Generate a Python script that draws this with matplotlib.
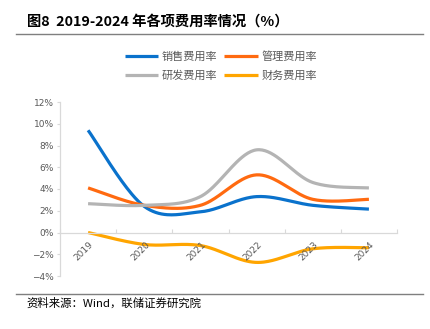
import numpy as np
import matplotlib
matplotlib.use("Agg")
import matplotlib.pyplot as plt
from matplotlib.lines import Line2D

plt.rcParams['font.family'] = ['Noto Sans CJK SC', 'DejaVu Sans']
plt.rcParams['axes.unicode_minus'] = True

# 数据（%）
years = ['2019', '2020', '2021', '2022', '2023', '2024']
sales = [9.4, 2.4, 1.9, 3.3, 2.5, 2.15]
admin = [4.1, 2.5, 2.5, 5.3, 3.05, 3.05]
rnd = [2.65, 2.5, 3.3, 7.6, 4.6, 4.1]
finance = [0.0, -1.1, -1.2, -2.75, -1.5, -1.4]

names = ['销售费用率', '管理费用率', '研发费用率', '财务费用率']
colors = ['#0A72CC', '#FF6A10', '#B4B4B4', '#FFA500']
yticks = [-4, -2, 0, 2, 4, 6, 8, 10, 12]


def smooth(xs, ys, n=40):
    # 平滑曲线：三次贝塞尔，控制点取相邻点差值的 1/6
    pts = np.column_stack([xs, ys]).astype(float)
    out = [pts[0]]
    m = len(pts)
    for i in range(m - 1):
        p0 = pts[i - 1] if i > 0 else pts[i]
        p1, p2 = pts[i], pts[i + 1]
        p3 = pts[i + 2] if i + 2 < m else pts[i + 1]
        c1 = p1 + (p2 - p0) / 6
        c2 = p2 - (p3 - p1) / 6
        t = np.linspace(0, 1, n)[1:, None]
        seg = ((1 - t) ** 3) * p1 + 3 * ((1 - t) ** 2) * t * c1 \
            + 3 * (1 - t) * t ** 2 * c2 + t ** 3 * p2
        out.extend(seg)
    out = np.array(out)
    return out[:, 0], out[:, 1]


fig = plt.figure(figsize=(4.31, 3.29), dpi=100)
ax = fig.add_axes([60 / 431, 1 - 276 / 329, 337 / 431, 174 / 329])

x = np.arange(len(years))
lines = []
for vals, c in zip([sales, admin, rnd, finance], colors):
    sx, sy = smooth(x, vals)
    lines += ax.plot(sx, sy, color=c, lw=2.3, solid_capstyle='butt')

ax.set_xlim(-0.5, len(years) - 0.5)
ax.set_ylim(-4, 12)
ax.set_yticks(yticks)
ax.set_yticklabels([f'{v}%'.replace('-', '\u2212') for v in yticks],
                   fontsize=6.5, color='#595959', family='DejaVu Sans')

# 横轴放在 0 处，刻度朝上
ax.spines['bottom'].set_position(('data', 0))
ax.spines['top'].set_visible(False)
ax.spines['right'].set_visible(False)
for s in ['left', 'bottom']:
    ax.spines[s].set_color('#D9D9D9')
    ax.spines[s].set_linewidth(0.9)
ax.set_xticks(np.arange(-0.5, len(years), 1))
ax.set_xticklabels([])
ax.tick_params(axis='x', direction='in', length=3, color='#D9D9D9')
ax.tick_params(axis='y', direction='out', length=2.5, color='#D9D9D9', pad=2)
for xi, yr in zip(x, years):
    ax.text(xi + 0.07, -1.0, yr, rotation=45, rotation_mode='anchor',
            ha='right', va='center', fontsize=6.5, color='#595959',
            family='DejaVu Sans')

# 图例：按行排列（销售、管理 / 研发、财务）
order = [0, 2, 1, 3]
leg = fig.legend([lines[i] for i in order], [names[i] for i in order],
                 loc='center', ncol=2,
                 bbox_to_anchor=(221 / 431, 1 - 66 / 329), frameon=False,
                 prop={'size': 8}, handlelength=3.0, handletextpad=0.35,
                 columnspacing=0.6, labelspacing=0.75)
for t in leg.get_texts():
    t.set_color('#595959')

# 标题、分隔线与资料来源
fig.text(27 / 431, 1 - 22 / 329, '图8  2019-2024 年各项费用率情况（%）',
         fontsize=10.3, fontweight='bold', va='center', ha='left', color='#000000')
fig.add_artist(Line2D([16 / 431, 423 / 431], [1 - 34 / 329] * 2,
                      color='#7F7F7F', lw=1.0))
fig.add_artist(Line2D([16 / 431, 423 / 431], [1 - 294 / 329] * 2,
                      color='#7F7F7F', lw=1.0))
fig.text(26 / 431, 1 - 303 / 329, '资料来源：Wind，联储证券研究院',
         fontsize=8.2, va='center', ha='left', color='#000000')

fig.savefig('out.png', dpi=100)
